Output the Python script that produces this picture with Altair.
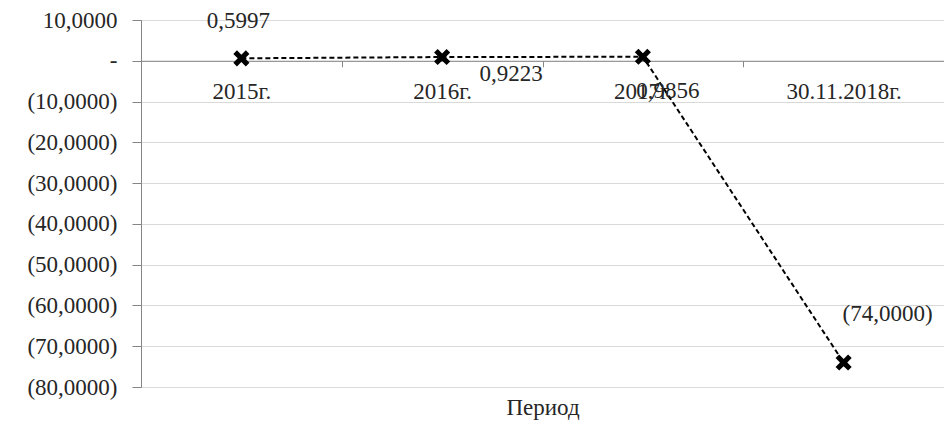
import altair as alt
import pandas as pd

periods = ["2015г.", "2016г.", "2017г.", "30.11.2018г."]
values = [0.5997, 0.9223, 0.9856, -74.0000]
y_ticks = [-80, -70, -60, -50, -40, -30, -20, -10, 0, 10]


def fmt(v):
    s = f"{abs(v):.4f}".replace(".", ",")
    return f"({s})" if v < 0 else s


df = pd.DataFrame({"period": periods, "value": values, "idx": range(len(periods))})
df["label"] = [fmt(v) for v in values]

FONT = "Liberation Serif"
TXT = "#262626"
W, H = 803, 367
zero_from_top = H * 10 / 90
x_offset = -(H - zero_from_top)

NB = "\u00a0"
label_expr = (
    "datum.value == 0 ? '-" + NB * 4 + "' : (datum.value < 0 ? '(' + replace(format(-datum.value, '.4f'), '.', ',') + ')'"
    " : replace(format(datum.value, '.4f'), '.', ',') + '" + NB + "')"
)

x_enc = alt.X(
    "period:N",
    sort=periods,
    scale=alt.Scale(paddingInner=0, paddingOuter=0),
    axis=alt.Axis(
        title="Период",
        offset=x_offset,
        labelAngle=0,
        tickBand="extent",
        tickSize=6,
        labelPadding=14,
        domainColor="#868686",
        tickColor="#868686",
        labelFont=FONT,
        labelFontSize=23,
        labelColor=TXT,
        titleFont=FONT,
        titleFontSize=23,
        titleFontWeight="normal",
        titleColor=TXT,
        titleBaseline="alphabetic",
        titleY=354,
        grid=False,
    ),
)
y_enc = alt.Y(
    "value:Q",
    scale=alt.Scale(domain=[-80, 10], nice=False, zero=False),
    axis=alt.Axis(
        title=None,
        values=y_ticks,
        labelExpr=label_expr,
        grid=True,
        gridColor="#d9d9d9",
        domainColor="#868686",
        tickColor="#868686",
        tickSize=9,
        labelPadding=15,
        labelFont=FONT,
        labelFontSize=23,
        labelColor=TXT,
    ),
)

base = alt.Chart(df)

line = base.mark_line(color="black", strokeDash=[5, 3], strokeWidth=2).encode(x=x_enc, y=y_enc)

x_path = "M-1,-0.55L-0.55,-1L0,-0.45L0.55,-1L1,-0.55L0.45,0L1,0.55L0.55,1L0,0.45L-0.55,1L-1,0.55L-0.45,0Z"
points = base.mark_point(shape=x_path, filled=True, color="black", size=260, opacity=1).encode(
    x=alt.X("period:N", sort=periods), y="value:Q"
)

offsets = [(-3, -37), (69, 17), (25, 34), (44, -49)]
texts = []
for i, (dx, dy) in enumerate(offsets):
    texts.append(
        base.transform_filter(alt.datum.idx == i)
        .mark_text(font=FONT, fontSize=23, color=TXT, dx=dx, dy=dy, baseline="middle", align="center")
        .encode(x=alt.X("period:N", sort=periods), y="value:Q", text="label:N")
    )

chart = (
    alt.layer(line, points, *texts)
    .properties(
        width=W,
        height=H,
        autosize=alt.AutoSizeParams(type="none"),
        padding={"left": 133, "top": 12, "right": 0, "bottom": 34},
    )
    .configure_view(stroke=None)
    .configure(font=FONT)
)

chart.save("out.html", embed_options={"renderer": "svg", "actions": False})
